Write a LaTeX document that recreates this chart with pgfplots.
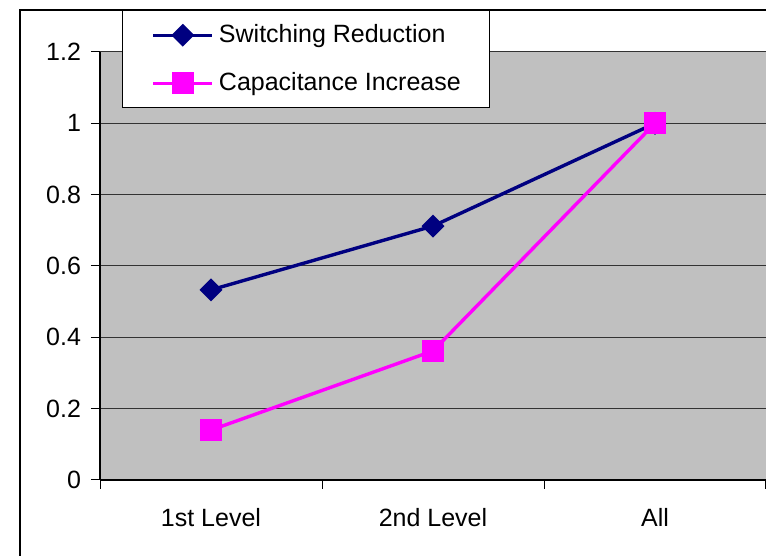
\documentclass[border=0pt]{standalone}
\usepackage{fontspec}
\setmainfont{Liberation Sans}
\usepackage{pgfplots}
\pgfplotsset{compat=1.18}
\definecolor{plotbg}{HTML}{C0C0C0}
\definecolor{navyline}{HTML}{000080}
\definecolor{magline}{HTML}{FF00FF}
\begin{document}
\begin{tikzpicture}
\useasboundingbox (0,0) rectangle (383pt,278pt);
\clip (0,0) rectangle (383pt,278pt);
\fill[white] (0,0) rectangle (383pt,278pt);
\draw[line width=0.6pt] (10pt,-5pt) rectangle (390pt,273pt);
\begin{axis}[
  at={(50pt,38pt)}, anchor=south west,
  scale only axis, width=333pt, height=214pt,
  xmin=-0.5, xmax=2.5, ymin=0, ymax=1.2,
  axis background/.style={fill=plotbg},
  axis x line*=bottom, axis y line*=left,
  axis line style={line width=0.6pt, black, -},
  xtick={-0.5,0.5,1.5,2.5}, xticklabels={},
  extra x ticks={0,1,2}, extra x tick labels={1st Level,2nd Level,All},
  extra x tick style={xtick style={draw=none}, xticklabel style={yshift=-6pt}, grid=none},
  ytick={0,0.2,0.4,0.6,0.8,1,1.2},
  yticklabels={0,0.2,0.4,0.6,0.8,1,1.2},
  tick align=outside, major tick length=4.5pt,
  tick style={line width=0.5pt, black},
  ymajorgrids, grid style={line width=0.5pt, black!80},
  tick label style={font=\fontsize{12.5}{15}\selectfont},
  yticklabel style={xshift=-1.5pt},
  /pgf/number format/assume math mode=true,
  legend style={at={(0.033,1.098)}, anchor=north west, draw=black, line width=0.6pt,
    fill=white, font=\fontsize{12.5}{15}\selectfont,
    inner xsep=14.5pt, inner ysep=7pt, row sep=13.5pt, column sep=2.5pt,
    nodes={inner sep=0pt}, cells={anchor=west}},
  legend image code/.code={\draw[mark repeat=2,mark phase=2,#1] plot coordinates {(0pt,0pt) (14.75pt,0pt) (29.5pt,0pt)};},
]
\addplot[navyline, line width=1.7pt, mark=square*, mark size=3.2pt, mark options={rotate=45, solid, fill=navyline}]
  coordinates {(0,0.533) (1,0.712) (2,1.0)};
\addlegendentry{Switching Reduction}
\addplot[magline, line width=1.7pt, mark=square*, mark size=4.6pt, mark options={solid, fill=magline}]
  coordinates {(0,0.14) (1,0.362) (2,1.0)};
\addlegendentry{Capacitance Increase}
\end{axis}
\end{tikzpicture}
\end{document}
